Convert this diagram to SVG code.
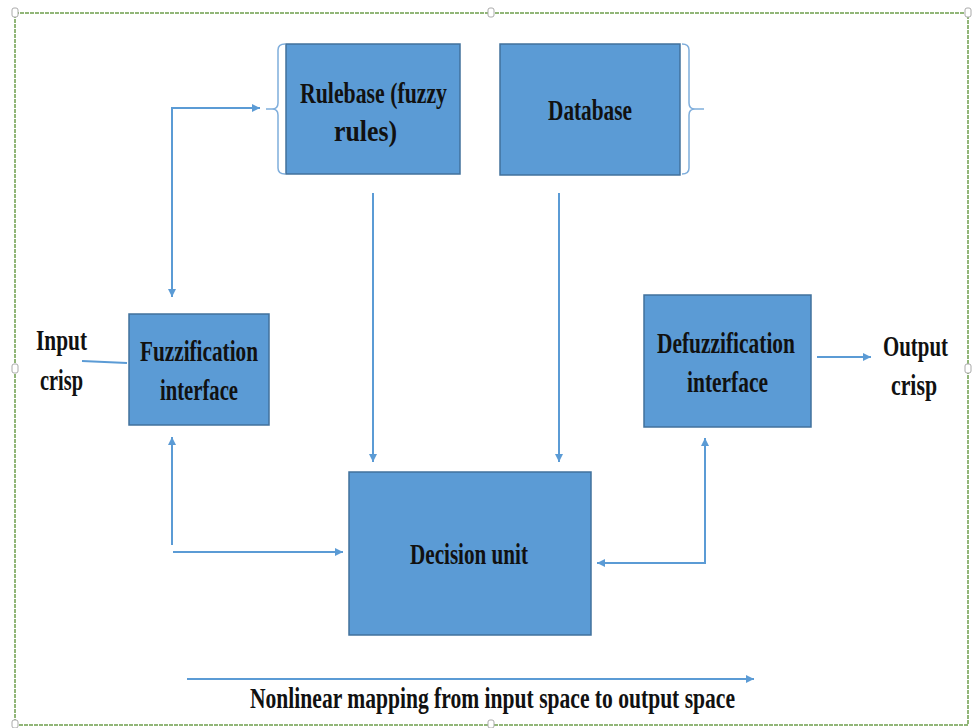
<svg xmlns="http://www.w3.org/2000/svg" width="972" height="728" viewBox="0 0 972 728">
<style>
.box{fill:#5B9BD5;stroke:#41719C;stroke-width:1.5}
.con{fill:none;stroke:#5B9BD5;stroke-width:2}
.br{fill:none;stroke:#7FAEDC;stroke-width:1.5}
.t{font-family:"Liberation Serif","Times New Roman",serif;font-weight:bold;font-size:30px;fill:#111}
.frame{fill:none;stroke:#6E9E4C;stroke-width:1.5;stroke-dasharray:4 1}
.hd{fill:#fff;stroke:#aaa;stroke-width:1}
</style>
<defs>
<marker id="ah" viewBox="0 0 8 8" refX="8" refY="4" markerWidth="8" markerHeight="8" markerUnits="userSpaceOnUse" orient="auto-start-reverse">
<path d="M0,0 L8,4 L0,8 z" fill="#5B9BD5"/>
</marker>
</defs>
<rect width="972" height="728" fill="#fff"/>
<g id="frame">
<rect class="frame" x="15" y="13" width="953" height="712"/>
<rect class="hd" x="12" y="8" width="6" height="9" rx="2"/>
<rect class="hd" x="488" y="8" width="6" height="9" rx="2"/>
<rect class="hd" x="965" y="8" width="6" height="9" rx="2"/>
<rect class="hd" x="12" y="364" width="6" height="9" rx="2"/>
<rect class="hd" x="965" y="364" width="6" height="9" rx="2"/>
<rect class="hd" x="488" y="720" width="6" height="8" rx="2"/>
<rect class="hd" x="12" y="720" width="6" height="8" rx="2"/>
</g>
<g id="connectors">
<path class="con" d="M172,297 V108 H260" marker-start="url(#ah)" marker-end="url(#ah)"/>
<path class="con" d="M373,193 V462" marker-end="url(#ah)"/>
<path class="con" d="M559,193 V462" marker-end="url(#ah)"/>
<path class="con" d="M172,545 V437" marker-end="url(#ah)"/>
<path class="con" d="M173,552 H343" marker-end="url(#ah)"/>
<path class="con" d="M597,563 H705 V438" marker-start="url(#ah)" marker-end="url(#ah)"/>
<path class="con" d="M82,361 L127,363"/>
<path class="con" d="M817,357 H871" marker-end="url(#ah)"/>
<path class="con" d="M187,679 H754" marker-end="url(#ah)"/>
<path class="br" d="M285,44 q-7,0 -7,6 v53 q0,6 -6,6 h-6 M272,109 q6,0 6,6 v53 q0,6 7,6"/>
<path class="br" d="M682,44 q7,0 7,6 v53 q0,6 6,6 h9 M695,109 q-6,0 -6,6 v53 q0,6 -7,6"/>
</g>
<g id="rulebase">
<rect class="box" x="286" y="44" width="174" height="130"/>
<text class="t" x="300" y="103" textLength="147" lengthAdjust="spacingAndGlyphs">Rulebase (fuzzy</text>
<text class="t" x="334" y="141" textLength="63" lengthAdjust="spacingAndGlyphs">rules)</text>
</g>
<g id="database">
<rect class="box" x="500" y="44" width="180" height="131"/>
<text class="t" x="548" y="120" textLength="84" lengthAdjust="spacingAndGlyphs">Database</text>
</g>
<g id="fuzzification">
<rect class="box" x="129" y="314" width="140" height="111"/>
<text class="t" x="140" y="361" textLength="118" lengthAdjust="spacingAndGlyphs">Fuzzification</text>
<text class="t" x="160" y="400" textLength="78" lengthAdjust="spacingAndGlyphs">interface</text>
</g>
<g id="input">
<text class="t" x="36" y="350" textLength="51" lengthAdjust="spacingAndGlyphs">Input</text>
<text class="t" x="40" y="390" textLength="43" lengthAdjust="spacingAndGlyphs">crisp</text>
</g>
<g id="defuzzification">
<rect class="box" x="644" y="295" width="167" height="132"/>
<text class="t" x="657" y="353" textLength="138" lengthAdjust="spacingAndGlyphs">Defuzzification</text>
<text class="t" x="687" y="392" textLength="81" lengthAdjust="spacingAndGlyphs">interface</text>
</g>
<g id="output">
<text class="t" transform="translate(883,356) scale(0.696,1)" x="0" y="0">Output</text>
<text class="t" transform="translate(891,395) scale(0.727,1)" x="0" y="0">crisp</text>
</g>
<g id="decision">
<rect class="box" x="349" y="472" width="242" height="163"/>
<text class="t" x="410" y="564" textLength="118" lengthAdjust="spacingAndGlyphs">Decision unit</text>
</g>
<g id="mapping">
<text class="t" x="250" y="708" textLength="485" lengthAdjust="spacingAndGlyphs">Nonlinear mapping from input space to output space</text>
</g>
</svg>
